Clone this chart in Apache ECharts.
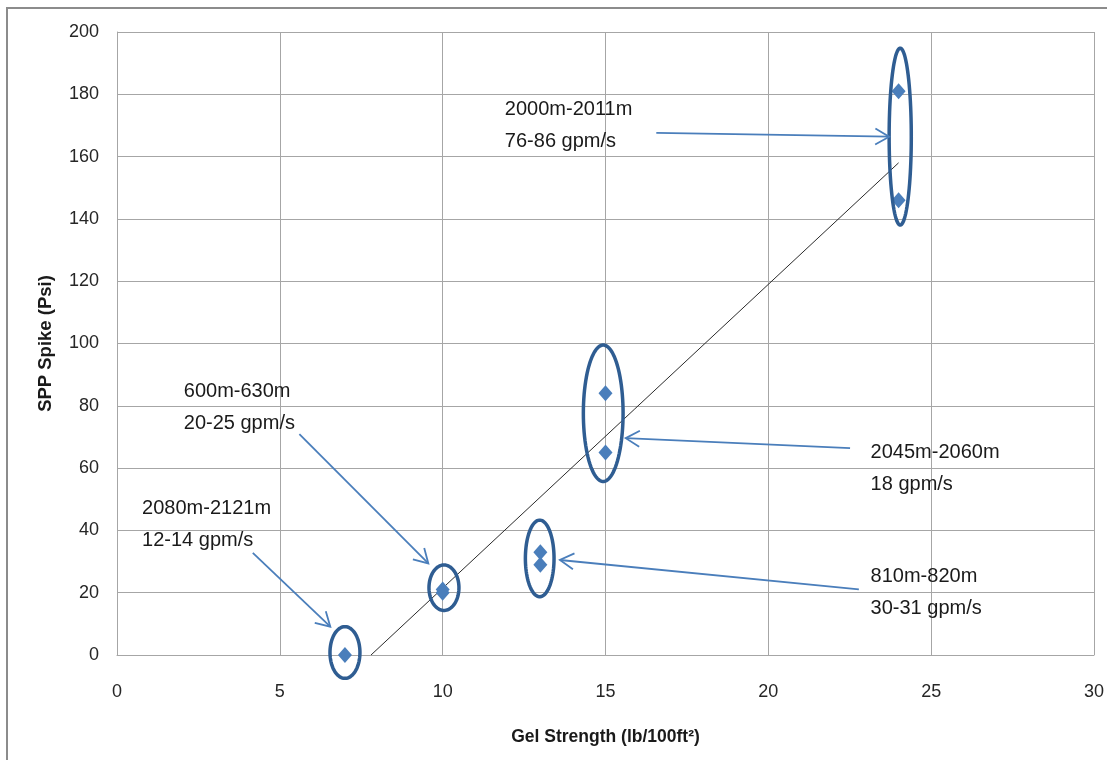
<!DOCTYPE html>
<html>
<head>
<meta charset="utf-8">
<script src="https://cdn.jsdelivr.net/npm/echarts@6/dist/echarts.min.js"></script>
<style>
html,body{margin:0;padding:0;background:#fff;}
#chart{width:1107px;height:760px;}
</style>
</head>
<body>
<div id="chart"></div>
<script>
// ---- data ----
var xTicks = [0, 5, 10, 15, 20, 25, 30];
var yTicks = [0, 20, 40, 60, 80, 100, 120, 140, 160, 180, 200];
// Gel Strength (lb/100ft²), SPP Spike (Psi)
var gelStrength = [7, 10, 10, 13, 13, 15, 15, 24, 24];
var sppSpike    = [0, 20, 21, 29, 33, 65, 84, 146, 181];
// linear trend line endpoints [x, y]
var trendLine = [[7.8, 0], [24, 158]];
// ellipses around clusters: [centerX, centerY, radiusX, radiusY] (data units)
var clusterEllipses = [
  [7.0, 0.8, 0.46, 8.3],
  [10.04, 21.6, 0.46, 7.3],
  [12.98, 31.0, 0.44, 12.3],
  [14.93, 77.6, 0.61, 21.9],
  [24.05, 166.4, 0.34, 28.4]
];
// annotation arrows: [fromX, fromY, toX, toY] (data units)
var arrows = [
  [16.56, 167.6, 23.71, 166.4],
  [22.51, 66.4, 15.62, 69.6],
  [22.78, 21.1, 13.60, 30.5],
  [5.60, 70.9, 9.56, 29.4],
  [4.17, 32.8, 6.55, 9.1]
];
// annotation text anchors: [leftX, topY] (data units) and texts
var labelAnchors = [
  [11.91, 180.4],
  [23.14, 70.3],
  [23.14, 30.5],
  [2.05, 89.7],
  [0.77, 52.2]
];
var labelTexts = [
  '2000m-2011m\n76-86 gpm/s',
  '2045m-2060m\n18 gpm/s',
  '810m-820m\n30-31 gpm/s',
  '600m-630m\n20-25 gpm/s',
  '2080m-2121m\n12-14 gpm/s'
];

var FONT = '"Liberation Sans", Arial, sans-serif';
var chart = echarts.init(document.getElementById('chart'), null, {renderer: 'canvas'});

var points = gelStrength.map(function (x, i) { return [x, sppSpike[i]]; });

var option = {
  backgroundColor: '#fff',
  animation: false,
  graphic: [{
    type: 'polyline',
    silent: true,
    shape: {points: [[7, 770], [7, 8], [1120, 8]]},
    style: {stroke: '#8c8c8c', lineWidth: 2, fill: null}
  }],
  grid: {left: 117, top: 32, right: 9, bottom: 105, containLabel: false},
  xAxis: {
    type: 'value', min: 0, max: 30, interval: 5,
    name: 'Gel Strength (lb/100ft²)',
    nameLocation: 'middle', nameGap: 73,
    nameTextStyle: {fontFamily: FONT, fontWeight: 'bold', fontSize: 17.5, color: '#1a1a1a'},
    axisLine: {show: true, lineStyle: {color: '#a6a6a6', width: 1}},
    axisTick: {show: false},
    axisLabel: {fontFamily: FONT, fontSize: 18, color: '#262626', margin: 28,
      formatter: function (v) { return xTicks.indexOf(v) >= 0 ? String(v) : ''; }},
    splitLine: {show: true, lineStyle: {color: '#a6a6a6', width: 1}}
  },
  yAxis: {
    type: 'value', min: 0, max: 200, interval: 20,
    name: 'SPP Spike (Psi)',
    nameLocation: 'middle', nameGap: 62, nameRotate: 90,
    nameTextStyle: {fontFamily: FONT, fontWeight: 'bold', fontSize: 18.5, color: '#1a1a1a'},
    axisLine: {show: true, lineStyle: {color: '#a6a6a6', width: 1}},
    axisTick: {show: false},
    axisLabel: {fontFamily: FONT, fontSize: 18, color: '#262626', margin: 18,
      formatter: function (v) { return yTicks.indexOf(v) >= 0 ? String(v) : ''; }},
    splitLine: {show: true, lineStyle: {color: '#a6a6a6', width: 1}}
  },
  series: [
    {
      type: 'line',
      data: trendLine,
      symbol: 'none',
      lineStyle: {color: '#2a2a2a', width: 1},
      silent: true, z: 2
    },
    {
      type: 'scatter',
      data: points,
      symbol: 'diamond',
      symbolSize: [14, 16],
      itemStyle: {color: '#4a7ebb', opacity: 1},
      z: 3
    },
    {
      type: 'custom',
      data: clusterEllipses,
      silent: true, z: 4,
      renderItem: function (params, api) {
        var c = api.coord([api.value(0), api.value(1)]);
        var s = api.size([api.value(2), api.value(3)]);
        var pts = [];
        for (var k = 0; k < 90; k++) {
          var t = k / 90 * Math.PI * 2;
          pts.push([c[0] + s[0] * Math.cos(t), c[1] + s[1] * Math.sin(t)]);
        }
        return {
          type: 'polygon',
          shape: {points: pts},
          style: {fill: null, stroke: '#2f5d92', lineWidth: 3.5}
        };
      }
    },
    {
      type: 'custom',
      data: arrows,
      silent: true, z: 5,
      renderItem: function (params, api) {
        var a = api.coord([api.value(0), api.value(1)]);
        var b = api.coord([api.value(2), api.value(3)]);
        var ang = Math.atan2(b[1] - a[1], b[0] - a[0]);
        var L = 16, spread = Math.PI / 6;
        var h1 = [b[0] - L * Math.cos(ang - spread), b[1] - L * Math.sin(ang - spread)];
        var h2 = [b[0] - L * Math.cos(ang + spread), b[1] - L * Math.sin(ang + spread)];
        var st = {stroke: '#4a7ebb', lineWidth: 1.8, fill: null};
        return {
          type: 'group',
          children: [
            {type: 'line', shape: {x1: a[0], y1: a[1], x2: b[0], y2: b[1]}, style: st},
            {type: 'polyline', shape: {points: [h1, b, h2]}, style: st}
          ]
        };
      }
    },
    {
      type: 'custom',
      data: labelAnchors,
      silent: true, z: 6,
      renderItem: function (params, api) {
        var p = api.coord([api.value(0), api.value(1)]);
        return {
          type: 'text',
          x: p[0], y: p[1],
          style: {
            text: labelTexts[params.dataIndex],
            fontFamily: FONT, fontSize: 20, lineHeight: 32,
            fill: '#1a1a1a', align: 'left', verticalAlign: 'top'
          }
        };
      }
    }
  ]
};
chart.setOption(option);
</script>
</body>
</html>
